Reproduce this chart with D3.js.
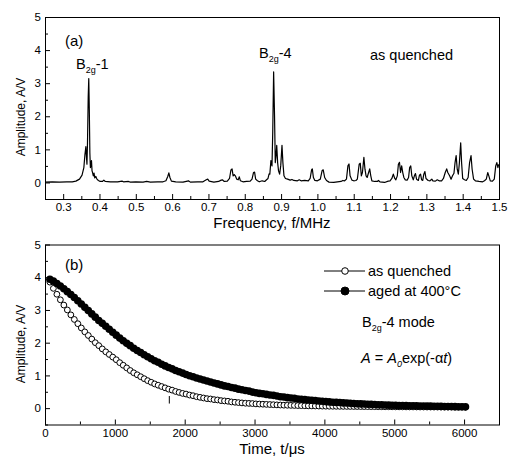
<!DOCTYPE html>
<html>
<head>
<meta charset="utf-8">
<script src="https://cdn.jsdelivr.net/npm/d3@7"></script>
<style>
body { margin: 0; background: #fff; }
svg { display: block; font-family: "Liberation Sans", Arial, sans-serif; }
</style>
</head>
<body>
<div id="chart"></div>
<script>
/*
 * (a) spectrum and (b) amplitude decay
 */

// (a) spectrum: [frequency MHz, amplitude V]
var spectrum = [
  [0.25,0.01],[0.27,0.02],[0.29,0.01],[0.31,0.02],[0.325,0.02],[0.335,0.04],[0.345,0.1],[0.352,0.22],
  [0.357,0.45],[0.36,0.85],[0.3625,1.08],[0.364,0.8],[0.3655,0.55],[0.367,1.2],[0.369,2.6],[0.3705,3.14],
  [0.372,2.2],[0.3735,0.9],[0.375,0.45],[0.3765,0.55],[0.378,0.66],[0.3795,0.35],[0.381,0.3],[0.383,0.2],
  [0.385,0.28],[0.387,0.14],[0.39,0.18],[0.393,0.1],[0.397,0.06],[0.402,0.03],[0.408,0.03],[0.412,0.07],
  [0.416,0.03],[0.43,0.02],[0.45,0.02],[0.462,0.04],[0.466,0.02],[0.48,0.03],[0.485,0.01],[0.5,0.02],
  [0.52,0.01],[0.53,0.03],[0.54,0.01],[0.56,0.02],[0.575,0.02],[0.583,0.05],[0.588,0.18],[0.591,0.29],
  [0.594,0.15],[0.598,0.04],[0.61,0.02],[0.63,0.01],[0.645,0.05],[0.65,0.01],[0.67,0.02],[0.685,0.02],
  [0.694,0.08],[0.698,0.1],[0.702,0.04],[0.715,0.01],[0.728,0.03],[0.735,0.07],[0.739,0.08],[0.743,0.03],
  [0.752,0.04],[0.758,0.12],[0.762,0.38],[0.765,0.41],[0.768,0.2],[0.771,0.24],[0.774,0.2],[0.778,0.1],
  [0.782,0.08],[0.785,0.17],[0.788,0.05],[0.795,0.02],[0.805,0.03],[0.815,0.04],[0.82,0.1],[0.824,0.3],
  [0.827,0.31],[0.83,0.1],[0.835,0.05],[0.84,0.02],[0.848,0.05],[0.855,0.03],[0.86,0.08],[0.864,0.12],
  [0.867,0.26],[0.869,0.25],[0.872,0.66],[0.875,0.5],[0.877,1.5],[0.8795,3.34],[0.882,2.0],[0.884,0.6],
  [0.886,0.8],[0.888,1.12],[0.8905,0.6],[0.893,0.35],[0.896,0.25],[0.899,0.5],[0.9025,1.12],[0.905,0.6],
  [0.908,0.2],[0.912,0.12],[0.918,0.1],[0.925,0.07],[0.93,0.09],[0.935,0.06],[0.945,0.05],[0.95,0.08],
  [0.955,0.05],[0.965,0.06],[0.975,0.05],[0.98,0.12],[0.984,0.38],[0.986,0.41],[0.989,0.15],[0.993,0.06],
  [1.0,0.05],[1.008,0.1],[1.013,0.36],[1.016,0.38],[1.02,0.15],[1.025,0.06],[1.032,0.01],[1.045,0.0],
  [1.055,0.02],[1.065,0.03],[1.07,0.06],[1.075,0.05],[1.08,0.1],[1.084,0.5],[1.087,0.56],[1.09,0.2],
  [1.095,0.07],[1.1,0.05],[1.106,0.06],[1.11,0.1],[1.115,0.55],[1.118,0.58],[1.121,0.2],[1.124,0.3],
  [1.128,0.76],[1.131,0.4],[1.134,0.2],[1.137,0.15],[1.141,0.3],[1.144,0.41],[1.147,0.2],[1.15,0.05],
  [1.158,0.03],[1.165,0.03],[1.168,0.06],[1.172,0.02],[1.185,0.0],[1.195,0.04],[1.2,0.05],[1.205,0.12],
  [1.209,0.25],[1.213,0.12],[1.216,0.08],[1.22,0.2],[1.223,0.55],[1.226,0.61],[1.229,0.3],[1.232,0.5],
  [1.235,0.3],[1.238,0.15],[1.242,0.08],[1.247,0.07],[1.251,0.15],[1.254,0.45],[1.257,0.5],[1.26,0.2],
  [1.264,0.08],[1.267,0.2],[1.27,0.27],[1.273,0.1],[1.278,0.06],[1.281,0.22],[1.284,0.25],[1.287,0.08],
  [1.29,0.06],[1.293,0.25],[1.296,0.33],[1.299,0.12],[1.305,0.06],[1.31,0.05],[1.315,0.1],[1.318,0.05],
  [1.325,0.04],[1.33,0.08],[1.335,0.05],[1.342,0.05],[1.347,0.12],[1.352,0.3],[1.356,0.41],[1.359,0.3],
  [1.364,0.2],[1.368,0.1],[1.372,0.2],[1.376,0.28],[1.379,0.6],[1.382,0.81],[1.385,0.4],[1.388,0.25],
  [1.391,0.6],[1.3945,1.2],[1.397,0.6],[1.4,0.12],[1.405,0.08],[1.41,0.06],[1.415,0.15],[1.419,0.6],
  [1.423,0.81],[1.426,0.4],[1.43,0.1],[1.435,0.05],[1.445,0.03],[1.455,0.02],[1.46,0.05],[1.465,0.1],
  [1.469,0.3],[1.472,0.2],[1.476,0.05],[1.482,0.04],[1.487,0.1],[1.491,0.5],[1.494,0.6],[1.497,0.45],
  [1.499,0.55]
];

// (b) sampled every 50 us from t = 70 us
var timeStart = 70;
var timeStep = 50;

var quenchedAmp = [
  3.85,3.66,3.48,3.31,3.15,3.00,2.85,2.71,2.58,2.45,2.33,2.22,2.11,2.00,1.91,1.81,1.72,1.64,1.56,1.48,
  1.39,1.31,1.23,1.15,1.08,1.02,0.96,0.90,0.84,0.79,0.74,0.70,0.66,0.62,0.58,0.55,0.51,0.48,0.45,0.43,
  0.40,0.38,0.35,0.33,0.31,0.29,0.28,0.26,0.25,0.23,0.22,0.21,0.19,0.18,0.17,0.16,0.15,0.145,0.14,0.13,
  0.125,0.12,0.115,0.11,0.105,0.10,0.095,0.09,0.088,0.085,0.082,0.079,0.076,0.073,0.07,0.068,0.066,0.064,0.062,0.06,
  0.058,0.057,0.056,0.055,0.054,0.053,0.052,0.051,0.05,0.049,0.048,0.047,0.046,0.045,0.044,0.043,0.042,0.042,0.041,0.04,
  0.039,0.039,0.038,0.037,0.037,0.036,0.035,0.035,0.034,0.034,0.033,0.033,0.032,0.032,0.031,0.031,0.031,0.03,0.03,0.03
];

var agedAmp = [
  3.94,3.88,3.81,3.73,3.65,3.56,3.47,3.38,3.28,3.18,3.08,2.98,2.88,2.78,2.68,2.59,2.50,2.41,2.32,2.23,
  2.14,2.06,1.98,1.91,1.83,1.76,1.70,1.63,1.57,1.51,1.45,1.40,1.34,1.29,1.24,1.20,1.15,1.11,1.07,1.03,
  0.99,0.96,0.92,0.89,0.86,0.83,0.80,0.77,0.74,0.71,0.68,0.66,0.63,0.61,0.58,0.56,0.54,0.52,0.49,0.47,
  0.45,0.44,0.42,0.40,0.39,0.37,0.35,0.34,0.32,0.31,0.30,0.28,0.27,0.26,0.25,0.24,0.23,0.22,0.21,0.20,
  0.19,0.18,0.175,0.17,0.16,0.155,0.15,0.14,0.135,0.13,0.125,0.12,0.115,0.11,0.105,0.10,0.096,0.092,0.088,0.085,
  0.082,0.079,0.076,0.074,0.071,0.069,0.066,0.064,0.062,0.06,0.058,0.056,0.054,0.052,0.05,0.048,0.046,0.044,0.042,0.04
];

// small stray tick seen in panel (b): [t, from, to]
var strayMark = [1780, 0.14, 0.37];

var freqTicks = [0.3,0.4,0.5,0.6,0.7,0.8,0.9,1.0,1.1,1.2,1.3,1.4,1.5];
var freqMinor = [0.25,0.35,0.45,0.55,0.65,0.75,0.85,0.95,1.05,1.15,1.25,1.35,1.45];
var timeTicks = [0,1000,2000,3000,4000,5000,6000];
var timeMinor = [500,1500,2500,3500,4500,5500,6500];
var ampTicks = [0,1,2,3,4,5];
var ampMinor = [-0.5,0.5,1.5,2.5,3.5,4.5];

var width = 508, height = 466;
var plotLeft = 45, plotRight = 499;

var svg = d3.select("#chart").append("svg")
  .attr("width", width).attr("height", height);

svg.append("rect").attr("width", width).attr("height", height).attr("fill", "#fff");

/*
 * inward ticks + frame, Origin style
 */
function drawAxes(x, y, xTicks, xMinor, xFmt, top, bottom){
  var gx = svg.append("g").attr("transform", "translate(0," + bottom + ")")
    .call(d3.axisBottom(x).tickValues(xTicks).tickFormat(xFmt).tickSize(-5).tickPadding(4));
  svg.append("g").attr("transform", "translate(0," + bottom + ")")
    .call(d3.axisBottom(x).tickValues(xMinor).tickFormat("").tickSize(-3));

  var gy = svg.append("g").attr("transform", "translate(" + plotLeft + ",0)")
    .call(d3.axisLeft(y).tickValues(ampTicks).tickFormat(d3.format("d")).tickSize(-5).tickPadding(4));
  svg.append("g").attr("transform", "translate(" + plotLeft + ",0)")
    .call(d3.axisLeft(y).tickValues(ampMinor).tickFormat("").tickSize(-3));

  svg.selectAll(".domain").remove();
  [gx, gy].forEach(function(g){
    g.attr("font-family", null).attr("font-size", 11.5);
    g.selectAll("text").attr("fill", "#000");
  });
  svg.selectAll(".tick line").attr("stroke", "#000");

  svg.append("rect")
    .attr("x", plotLeft + 0.5).attr("y", top + 0.5)
    .attr("width", plotRight - plotLeft).attr("height", bottom - top)
    .attr("fill", "none").attr("stroke", "#000").attr("stroke-width", 1);
}

function label(x, y, size){
  return svg.append("text").attr("x", x).attr("y", y).attr("font-size", size).attr("fill", "#000");
}

// B2g style label with subscript
function modeLabel(x, y, tail){
  var t = label(x, y, 14.5);
  t.append("tspan").text("B");
  t.append("tspan").attr("font-size", 9).attr("dy", 4).text("2g");
  t.append("tspan").attr("dy", -4).text(tail);
}

// ---------- panel (a) ----------
var topA = 17, bottomA = 199;
var xA = d3.scaleLinear().domain([0.25, 1.5]).range([plotLeft, plotRight]);
var yA = d3.scaleLinear().domain([-0.5, 5]).range([bottomA, topA]);

svg.append("path")
  .datum(spectrum)
  .attr("fill", "none").attr("stroke", "#000").attr("stroke-width", 1.2)
  .attr("stroke-linejoin", "round")
  .attr("d", d3.line().x(function(d){ return xA(d[0]); }).y(function(d){ return yA(d[1]); }));

drawAxes(xA, yA, freqTicks, freqMinor, d3.format(".1f"), topA, bottomA);

label(272, 228, 15).attr("text-anchor", "middle").text("Frequency, f/MHz");
label(0, 0, 12).attr("text-anchor", "middle")
  .attr("transform", "translate(25,117) rotate(-90)").text("Amplitude, A/V");

label(65, 46, 15).text("(a)");
modeLabel(76, 69, "-1");
modeLabel(259, 58, "-4");
label(370, 60, 14.5).text("as quenched");

// ---------- panel (b) ----------
var topB = 244.5, bottomB = 424.5;
var xB = d3.scaleLinear().domain([0, 6500]).range([plotLeft, plotRight]);
var yB = d3.scaleLinear().domain([-0.5, 5]).range([bottomB, topB]);

function toPoints(arr){
  return arr.map(function(a, i){ return { t: timeStart + i * timeStep, a: a }; });
}

svg.append("g").selectAll("circle")
  .data(toPoints(quenchedAmp))
  .join("circle")
  .attr("cx", function(d){ return xB(d.t); })
  .attr("cy", function(d){ return yB(d.a); })
  .attr("r", 2.9)
  .attr("fill", "#fff").attr("stroke", "#000").attr("stroke-width", 1);

svg.append("line")
  .attr("x1", xB(strayMark[0])).attr("x2", xB(strayMark[0]))
  .attr("y1", yB(strayMark[1])).attr("y2", yB(strayMark[2]))
  .attr("stroke", "#000").attr("stroke-width", 1);

svg.append("g").selectAll("circle")
  .data(toPoints(agedAmp))
  .join("circle")
  .attr("cx", function(d){ return xB(d.t); })
  .attr("cy", function(d){ return yB(d.a); })
  .attr("r", 3.8)
  .attr("fill", "#000");

drawAxes(xB, yB, timeTicks, timeMinor, d3.format("d"), topB, bottomB);

label(272, 454, 15).attr("text-anchor", "middle").text("Time, t/\u03bcs");
label(0, 0, 12).attr("text-anchor", "middle")
  .attr("transform", "translate(25,344) rotate(-90)").text("Amplitude, A/V");

label(65, 270, 15).text("(b)");

// legend
var legend = [
  { name: "as quenched", fill: "#fff", r: 3.3, y: 271 },
  { name: "aged at 400\u00b0C", fill: "#000", r: 4, y: 291 }
];
legend.forEach(function(d){
  svg.append("line").attr("x1", 324).attr("x2", 365).attr("y1", d.y).attr("y2", d.y)
    .attr("stroke", "#000").attr("stroke-width", 1);
  svg.append("circle").attr("cx", 345).attr("cy", d.y).attr("r", d.r)
    .attr("fill", d.fill).attr("stroke", "#000").attr("stroke-width", 1);
  label(368, d.y + 5, 14.5).text(d.name);
});

modeLabel(362, 327, "-4 mode");

var eq = label(361, 363, 14.5);
eq.append("tspan").attr("font-style", "italic").text("A");
eq.append("tspan").text(" = ");
eq.append("tspan").attr("font-style", "italic").text("A");
eq.append("tspan").attr("font-style", "italic").attr("font-size", 9).attr("dy", 4).text("0");
eq.append("tspan").attr("dy", -4).text("exp(-\u03b1");
eq.append("tspan").attr("font-style", "italic").text("t");
eq.append("tspan").text(")");
</script>
</body>
</html>
